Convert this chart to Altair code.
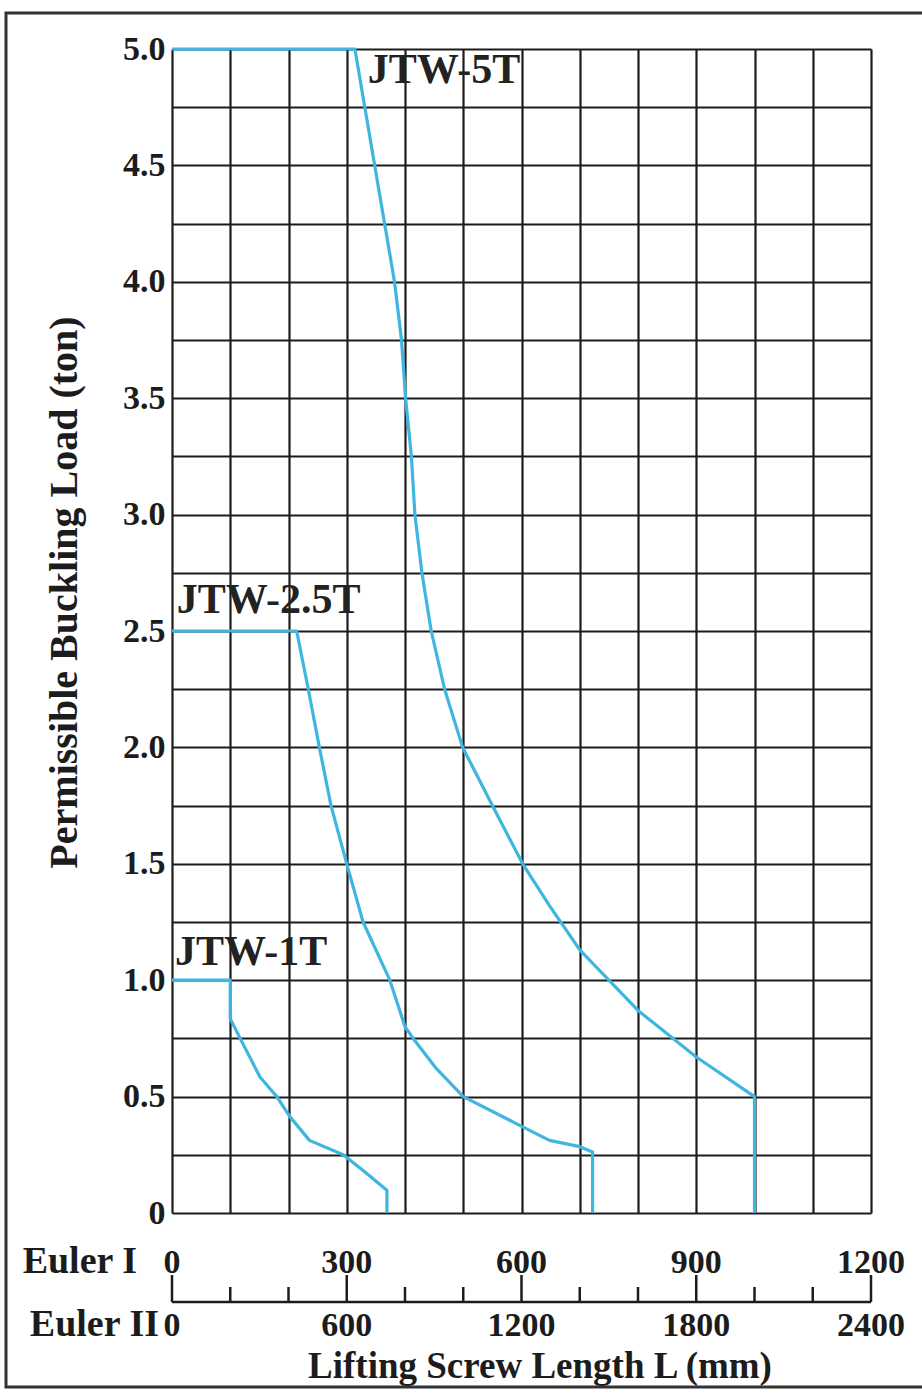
import altair as alt
import pandas as pd

# ---- data (x in Euler I length mm, y in ton) ----
jtw5_len = [0, 314, 348, 382, 394, 401, 411, 417, 429, 445, 468, 499, 550, 602, 648, 700, 750, 800, 900, 1000, 1000]
jtw5_load = [5.0, 5.0, 4.5, 4.0, 3.75, 3.5, 3.25, 3.0, 2.75, 2.5, 2.25, 2.0, 1.75, 1.5, 1.32, 1.13, 1.0, 0.87, 0.67, 0.5, 0.0]

jtw25_len = [0, 214, 234, 253, 273, 300, 328, 374, 400, 414, 454, 500, 591, 648, 700, 722, 722]
jtw25_load = [2.5, 2.5, 2.25, 2.0, 1.75, 1.5, 1.25, 1.0, 0.8, 0.75, 0.62, 0.5, 0.384, 0.312, 0.285, 0.262, 0.0]

jtw1_len = [0, 100, 100, 117, 151, 180, 202, 236, 294, 328, 369, 369]
jtw1_load = [1.0, 1.0, 0.835, 0.75, 0.584, 0.5, 0.415, 0.312, 0.25, 0.183, 0.098, 0.0]

series_names = ["JTW-5T", "JTW-2.5T", "JTW-1T"]
label_len = [336, 8, 5]
label_load = [4.855, 2.577, 1.065]

grid_x = list(range(0, 1201, 100))
grid_y = [i * 0.25 for i in range(21)]
euler1_labels = [0, 300, 600, 900, 1200]
euler2_labels = [0, 600, 1200, 1800, 2400]
major_ticks = [0, 300, 600, 900, 1200]
minor_ticks = [100, 200, 400, 500, 700, 800, 1000, 1100]

# ---- tables ----
rows = []
for name, xs_, ys_ in zip(series_names, [jtw5_len, jtw25_len, jtw1_len], [jtw5_load, jtw25_load, jtw1_load]):
    for i, (a, b) in enumerate(zip(xs_, ys_)):
        rows.append({"series": name, "i": i, "len": a, "load": b})
lines_df = pd.DataFrame(rows)
labels_df = pd.DataFrame({"name": series_names, "len": label_len, "load": label_load})
e1_df = pd.DataFrame({"lab": euler1_labels, "len": euler1_labels})
e2_df = pd.DataFrame({"lab": euler2_labels, "len": [v / 2 for v in euler2_labels]})
maj_df = pd.DataFrame({"len": major_ticks})
min_df = pd.DataFrame({"len": minor_ticks})
one = pd.DataFrame({"a": [0]})

FONT = "Liberation Serif"
BLUE = "#3fb6e0"
INK = "#1c1c1c"
W, H = 699, 1164

xs = alt.Scale(domain=[0, 1200], nice=False, zero=False)
ys = alt.Scale(domain=[0, 5], nice=False, zero=False)

x_axis = alt.Axis(
    values=grid_x, grid=True, gridColor=INK, gridWidth=2.2, gridOpacity=1,
    labels=False, ticks=False, domain=False, title=None)
y_axis = alt.Axis(
    values=grid_y, grid=True, gridColor=INK, gridWidth=2.2, gridOpacity=1,
    ticks=False, domain=False,
    labelExpr="datum.value % 0.5 == 0 ? (datum.value == 0 ? '0' : format(datum.value, '.1f')) : ''",
    labelFont=FONT, labelFontSize=34, labelFontWeight="bold", labelColor=INK, labelPadding=7,
    title="Permissible Buckling Load (ton)", titleFont=FONT, titleFontSize=40,
    titleFontWeight="bold", titleColor=INK, titlePadding=38, titleY=543)

X = alt.X("len:Q", scale=xs, axis=x_axis)
Y = alt.Y("load:Q", scale=ys, axis=y_axis)

lines = alt.Chart(lines_df).mark_line(color=BLUE, strokeWidth=3.2, strokeJoin="round").encode(
    x=X, y=Y, detail="series:N", order="i:Q",
)

series_labels = alt.Chart(labels_df).mark_text(
    font=FONT, fontSize=42, fontWeight="bold", color="#222", align="left", baseline="alphabetic"
).encode(x=X, y=Y, text="name:N")

e1_text = alt.Chart(e1_df).mark_text(
    font=FONT, fontSize=34, fontWeight="bold", color=INK, align="center", baseline="alphabetic"
).encode(x=X, y=alt.value(1224), text="lab:N")

e2_text = alt.Chart(e2_df).mark_text(
    font=FONT, fontSize=34, fontWeight="bold", color=INK, align="center", baseline="alphabetic"
).encode(x=X, y=alt.value(1287), text="lab:N")

axis_line = alt.Chart(one).mark_rule(color=INK, strokeWidth=2.5).encode(
    x=alt.value(0), x2=alt.value(W), y=alt.value(1253))

maj = alt.Chart(maj_df).mark_rule(color=INK, strokeWidth=2.5).encode(
    x=X, y=alt.value(1253), y2=alt.value(1226))
mnr = alt.Chart(min_df).mark_rule(color=INK, strokeWidth=2.5).encode(
    x=X, y=alt.value(1253), y2=alt.value(1238))

euler1_name = alt.Chart(one).mark_text(
    font=FONT, fontSize=38, fontWeight="bold", color=INK, align="right", baseline="alphabetic", text="Euler I"
).encode(x=alt.value(-35), y=alt.value(1224))
euler2_name = alt.Chart(one).mark_text(
    font=FONT, fontSize=38, fontWeight="bold", color=INK, align="right", baseline="alphabetic", text="Euler II"
).encode(x=alt.value(-13), y=alt.value(1287))
x_title = alt.Chart(one).mark_text(
    font=FONT, fontSize=37, fontWeight="bold", color=INK, align="center", baseline="alphabetic",
    text="Lifting Screw Length L (mm)"
).encode(x=alt.value(368), y=alt.value(1329))

frame = alt.Chart(one).mark_rect(filled=False, stroke="#333", strokeWidth=3).encode(
    x=alt.value(-166), x2=alt.value(770), y=alt.value(-36), y2=alt.value(1338))

chart = alt.layer(
    lines, series_labels, e1_text, e2_text, axis_line, maj, mnr,
    euler1_name, euler2_name, x_title, frame
).properties(
    width=W, height=H,
    autosize=alt.AutoSizeParams(type="none"),
    padding={"left": 172, "top": 49, "right": 922 - 172 - W, "bottom": 1394 - 49 - H},
    background="white",
).configure_view(strokeWidth=0)

chart.save("out.html", embed_options={"renderer": "svg", "actions": False})
